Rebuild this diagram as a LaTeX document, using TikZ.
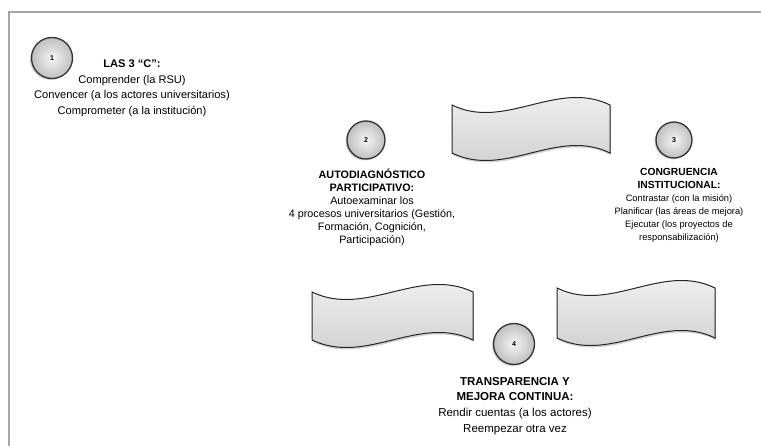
\documentclass[tikz,border=0pt]{standalone}
\usepackage{fontspec}
\setmainfont{Liberation Sans}
\usetikzlibrary{shadows}
\tikzset{
  numdisc/.style={circle, draw=black!80, line width=1.3pt, inner color=gray!8, outer color=gray!50,
    minimum size=38pt, inner sep=0pt, font=\bfseries\fontsize{7}{7}\selectfont,
    drop shadow={opacity=0.35, shadow xshift=-1.5pt, shadow yshift=-1.5pt}},
  tape/.style={draw=black!85, line width=1pt, top color=gray!8, bottom color=gray!40,
    drop shadow={opacity=0.35, shadow xshift=1pt, shadow yshift=-2pt}},
  steptext/.style={align=center, anchor=north, inner sep=0pt},
}
\begin{document}
\begin{tikzpicture}[x=1pt,y=-1pt]
  \useasboundingbox (0,0) rectangle (761,446);
  % frame
  \draw[gray!70, line width=1.5pt] (9,446) -- (9,12) -- (761,12);
  % tapes
  \path[tape] (452,105) .. controls (505,131) and (557,79) .. (610,105) -- (610,153)
    .. controls (557,127) and (505,179) .. (452,153) -- cycle;
  \path[tape] (312,292) .. controls (366,318) and (419,266) .. (473,292) -- (473,340)
    .. controls (419,314) and (366,366) .. (312,340) -- cycle;
  \path[tape] (557,288) .. controls (610,314) and (662,262) .. (715,288) -- (715,338)
    .. controls (662,312) and (610,364) .. (557,338) -- cycle;
  % steps
  \node[numdisc, minimum size=41pt] (c1) at (52,58) {1};
  \node[numdisc] (c2) at (366,140) {2};
  \node[numdisc, minimum size=36pt] (c3) at (674,140) {3};
  \node[numdisc, minimum size=41pt] (c4) at (514,344) {4};
  \node[steptext, font=\fontsize{11.1}{15.5}\selectfont] (t1) at (132,60)
    {\textbf{LAS 3 ``C'':}\\Comprender (la RSU)\\Convencer (a los actores universitarios)\\Comprometer (a la institución)};
  \node[steptext, font=\fontsize{10.8}{13}\selectfont] (t2) at (372,169)
    {\textbf{AUTODIAGNÓSTICO}\\\textbf{PARTICIPATIVO:}\\Autoexaminar los\\4 procesos universitarios (Gestión,\\Formación, Cognición,\\Participación)};
  \node[steptext, font=\fontsize{9.3}{13}\selectfont] (t3) at (679,168)
    {\textbf{\fontsize{10.3}{13}\selectfont CONGRUENCIA}\\\textbf{\fontsize{10.3}{13}\selectfont INSTITUCIONAL:}\\Contrastar (con la misión)\\Planificar (las áreas de mejora)\\Ejecutar (los proyectos de\\responsabilización)};
  \node[steptext, font=\fontsize{11.5}{15.7}\selectfont] (t4) at (515,377)
    {\textbf{TRANSPARENCIA Y}\\\textbf{MEJORA CONTINUA:}\\Rendir cuentas (a los actores)\\Reempezar otra vez};
\end{tikzpicture}
\end{document}
